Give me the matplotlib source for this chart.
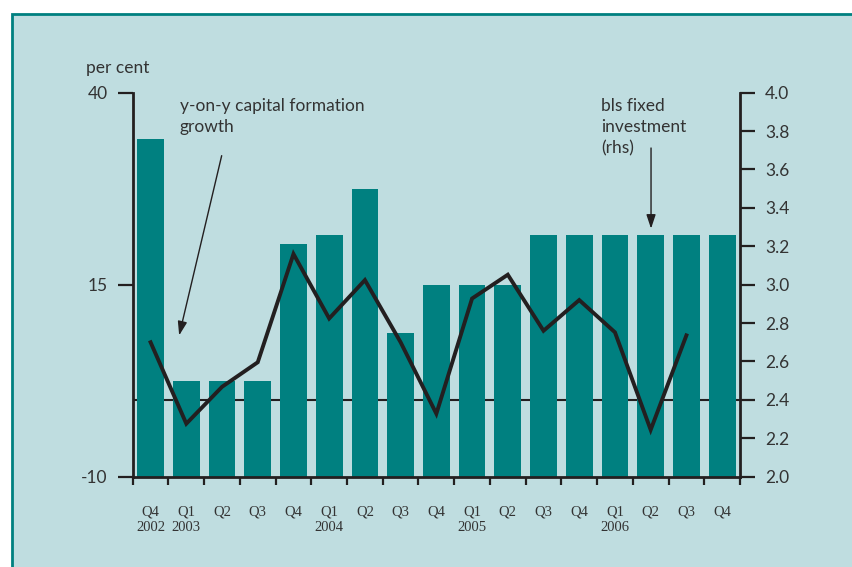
import matplotlib
matplotlib.use("Agg")
import matplotlib.pyplot as plt
from matplotlib.patches import Rectangle

# datos
quarters = ["Q4", "Q1", "Q2", "Q3", "Q4", "Q1", "Q2", "Q3", "Q4",
            "Q1", "Q2", "Q3", "Q4", "Q1", "Q2", "Q3", "Q4"]
years = ["2002", "2003", "", "", "", "2004", "", "", "",
         "2005", "", "", "", "2006", "", "", ""]

# bls fixed investment (rhs)
bls_investment = [3.76, 2.50, 2.50, 2.50, 3.21, 3.26, 3.50, 2.75, 3.00,
                  3.00, 3.00, 3.26, 3.26, 3.26, 3.26, 3.26, 3.26]

# y-on-y capital formation growth (lhs, per cent)
capital_growth = [7.5, -3.1, 1.7, 4.9, 19.0, 10.6, 15.6, 7.5, -1.8,
                  13.2, 16.3, 9.0, 13.0, 8.8, -3.9, 8.4]

bg = "#bfdde0"
teal = "#008080"
ink = "#231f20"
txt = "#333333"
sans = "Lato"
serif = "Liberation Serif"

fig = plt.figure(figsize=(8.53, 5.67), dpi=100)
fig.patch.set_facecolor("white")

# marco
frame = Rectangle((12 / 853, -0.1), 1.2, 1.1 - 14 / 567, transform=fig.transFigure,
                  facecolor=bg, edgecolor=teal, linewidth=2, zorder=-10)
fig.patches.append(frame)

ax = fig.add_axes([0.1556, 0.1593, 0.7119, 0.6772])
ax.set_facecolor("none")
ax2 = ax.twinx()
ax2.set_facecolor("none")

x = list(range(len(quarters)))

# barras (eje derecho)
ax.axhline(2.4, color=ink, linewidth=1.5, zorder=1)
ax.bar(x, bls_investment, width=0.75, color=teal, zorder=2)
ax.set_ylim(2.0, 4.0)
ax.set_xlim(-0.5, len(quarters) - 0.5)
ax.yaxis.tick_right()
ax.set_yticks([2.0 + 0.2 * i for i in range(11)])
ax.set_yticklabels(["%.1f" % (2.0 + 0.2 * i) for i in range(11)],
                   fontfamily=sans, fontsize=12.5, color=txt)
ax.tick_params(axis="y", direction="out", length=11, width=1.6, pad=7, color=ink)

# ticks del eje x en los limites de cada barra
ax.set_xticks([i - 0.5 for i in range(len(quarters) + 1)])
ax.set_xticklabels([])
ax.set_xticks(x, minor=True)
ax.set_xticklabels([q + "\n" + y for q, y in zip(quarters, years)], minor=True,
                   fontfamily=serif, fontsize=10.5, color=txt, linespacing=1.25,
                   va="top")
ax.tick_params(axis="x", which="major", direction="out", length=6, width=1.6, color=ink)
ax.tick_params(axis="x", which="minor", length=0, pad=21)

for s in ["top", "left"]:
    ax.spines[s].set_visible(False)
for s in ["right", "bottom"]:
    ax.spines[s].set_linewidth(2)
    ax.spines[s].set_color(ink)

# linea (eje izquierdo)
ax2.yaxis.tick_left()
ax2.plot(range(len(capital_growth)), capital_growth, color=ink, linewidth=2.8,
         solid_joinstyle="miter", zorder=3)
ax2.set_ylim(-10, 40)
ax2.set_yticks([-10, 15, 40])
ax2.set_yticklabels(["-10", "15", "40"], fontfamily=sans, fontsize=12.5, color=txt)
ax2.tick_params(axis="y", direction="out", length=11, width=1.6, pad=7, color=ink)
for s in ["top", "right", "bottom"]:
    ax2.spines[s].set_visible(False)
ax2.spines["left"].set_linewidth(2)
ax2.spines["left"].set_color(ink)

# etiquetas y flechas
ax2.text(0.82, 39.3, "y-on-y capital formation\ngrowth", fontfamily=sans,
         fontsize=12.5, color=txt, va="top", ha="left", linespacing=1.4)
ax2.annotate("", xy=(0.8, 8.4), xytext=(1.99, 31.8),
             arrowprops=dict(arrowstyle="-|>,head_length=0.6,head_width=0.2",
                             color=ink, linewidth=1, mutation_scale=14,
                             shrinkA=0, shrinkB=0))
ax2.text(12.62, 39.3, "bls fixed\ninvestment\n(rhs)", fontfamily=sans,
         fontsize=12.5, color=txt, va="top", ha="left", linespacing=1.4)
ax2.annotate("", xy=(14.01, 22.3), xytext=(14.01, 32.8),
             arrowprops=dict(arrowstyle="-|>,head_length=0.6,head_width=0.2",
                             color=ink, linewidth=1, mutation_scale=14,
                             shrinkA=0, shrinkB=0))

fig.text(86 / 853, 1 - 68 / 567, "per cent", fontfamily=sans, fontsize=12.5,
         color=txt, va="center", ha="left")

fig.savefig("out.png", dpi=100)
